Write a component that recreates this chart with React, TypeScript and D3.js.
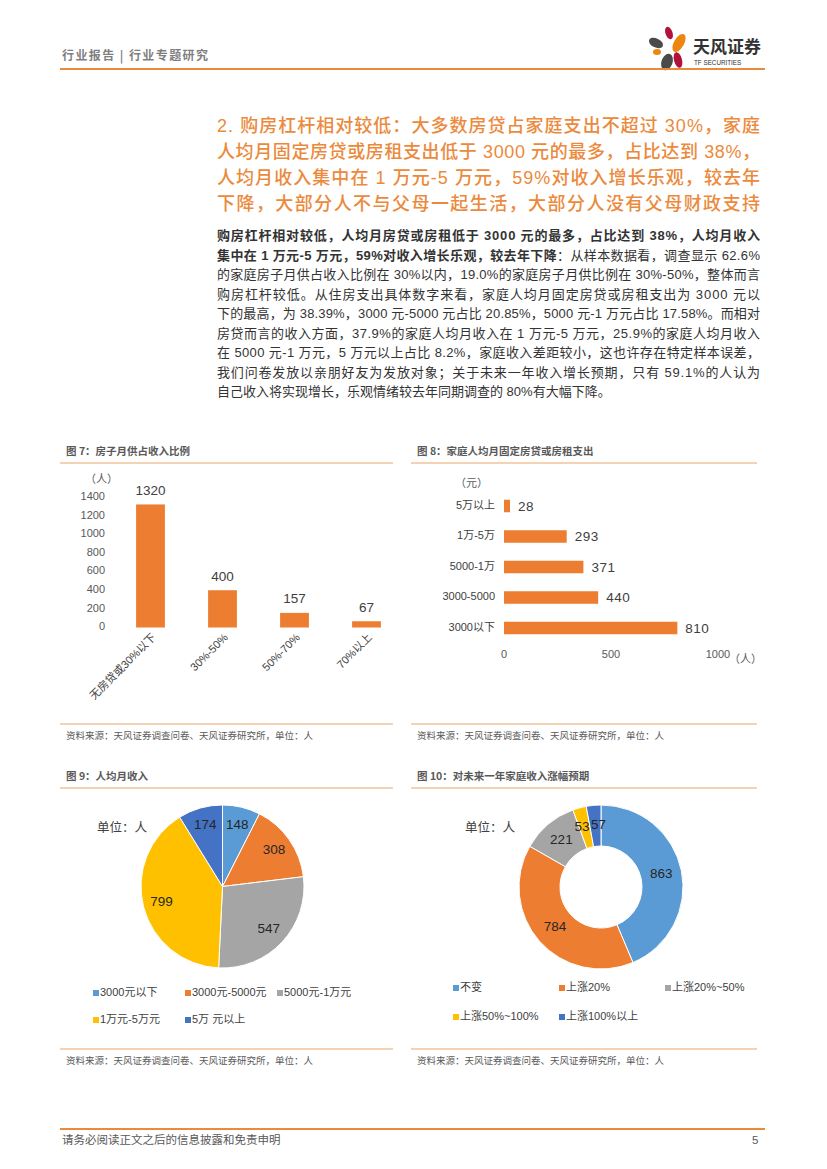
import * as React from "react";
import * as d3 from "d3";

// 图7 房子月供占收入比例
const ratioCats = ["无房贷或30%以下", "30%-50%", "50%-70%", "70%以上"];
const ratioVals = [1320, 400, 157, 67];
const ratioTicks = [0, 200, 400, 600, 800, 1000, 1200, 1400];

// 图8 家庭人均月固定房贷或房租支出
const rentCats = ["5万以上", "1万-5万", "5000-1万", "3000-5000", "3000以下"];
const rentVals = [28, 293, 371, 440, 810];
const rentTicks = [0, 500, 1000];

// 图9 人均月收入
const incomeCats = ["3000元以下", "3000元-5000元", "5000元-1万元", "1万元-5万元", "5万 元以上"];
const incomeVals = [148, 308, 547, 799, 174];

// 图10 对未来一年家庭收入涨幅预期
const expectCats = ["不变", "上涨20%", "上涨20%~50%", "上涨50%~100%", "上涨100%以上"];
const expectVals = [863, 784, 221, 53, 57];

const titleLines = [
  "2. 购房杠杆相对较低：大多数房贷占家庭支出不超过 30%，家庭",
  "人均月固定房贷或房租支出低于 3000 元的最多，占比达到 38%，",
  "人均月收入集中在 1 万元-5 万元，59%对收入增长乐观，较去年",
  "下降，大部分人不与父母一起生活，大部分人没有父母财政支持",
];

const bodyLines = [
  "从样本数据看，调查显示 62.6%",
  "的家庭房子月供占收入比例在 30%以内，19.0%的家庭房子月供比例在 30%-50%，整体而言",
  "购房杠杆较低。从住房支出具体数字来看，家庭人均月固定房贷或房租支出为 3000 元以",
  "下的最高，为 38.39%，3000 元-5000 元占比 20.85%，5000 元-1 万元占比 17.58%。而相对",
  "房贷而言的收入方面，37.9%的家庭人均月收入在 1 万元-5 万元，25.9%的家庭人均月收入",
  "在 5000 元-1 万元，5 万元以上占比 8.2%，家庭收入差距较小，这也许存在特定样本误差，",
  "我们问卷发放以亲朋好友为发放对象；关于未来一年收入增长预期，只有 59.1%的人认为",
  "自己收入将实现增长，乐观情绪较去年同期调查的 80%有大幅下降。",
];

const COLORS = ["#5B9BD5", "#ED7D31", "#A5A5A5", "#FFC000", "#4472C4"];
const ORANGE = "#ED7D31";
const FONT = "'Liberation Sans', 'Noto Sans CJK SC', sans-serif";
const CJK = "'Noto Sans CJK SC', 'Liberation Sans', sans-serif";
const SOURCE = "资料来源：天风证券调查问卷、天风证券研究所，单位：人";

function SectionFrame(props: { x: number; w: number; y: number; bottom: number; title: string }) {
  const { x, w, y, bottom, title } = props;
  return (
    <g>
      <text x={x + 6} y={y} fontSize={10.5} fontWeight="bold" fill="#595959" fontFamily={CJK} dominantBaseline="middle">{title}</text>
      <line x1={x} x2={x + w} y1={y + 11} y2={y + 11} stroke="#EBA56B" strokeWidth={1} />
      <line x1={x} x2={x + w} y1={bottom} y2={bottom} stroke="#EBA56B" strokeWidth={1} />
      <text x={x + 6} y={bottom + 12} fontSize={9.5} fill="#595959" fontFamily={CJK} dominantBaseline="middle">{SOURCE}</text>
    </g>
  );
}

function Fig7() {
  const x = d3.scaleBand().domain(ratioCats).range([114.5, 402.5]).paddingInner(0.6).paddingOuter(0.3);
  const y = d3.scaleLinear().domain([0, 1400]).range([627.5, 497]);
  return (
    <g fontFamily={FONT}>
      <text x={85} y={480} fontSize={11} fill="#595959" dominantBaseline="middle">（人）</text>
      {ratioTicks.map((t) => (
        <text key={t} x={105} y={y(t)} fontSize={11} fill="#595959" textAnchor="end" dominantBaseline="middle">{t}</text>
      ))}
      {ratioCats.map((c, i) => {
        const bx = x(c) as number;
        const cx = bx + x.bandwidth() / 2;
        return (
          <g key={c}>
            <rect x={bx} y={y(ratioVals[i])} width={x.bandwidth()} height={y(0) - y(ratioVals[i])} fill={ORANGE} />
            <text x={cx} y={y(ratioVals[i]) - 13} fontSize={13.5} fill="#404040" textAnchor="middle" dominantBaseline="middle">{ratioVals[i]}</text>
            <text transform={`translate(${cx + 4},${636}) rotate(-45)`} fontSize={11} fill="#404040" textAnchor="end" dominantBaseline="middle">{c}</text>
          </g>
        );
      })}
    </g>
  );
}

function Fig8() {
  const y = d3.scaleBand().domain(rentCats).range([490.75, 643.25]).paddingInner(0.59).paddingOuter(0.295);
  const x = d3.scaleLinear().domain([0, 1000]).range([504, 718]);
  return (
    <g fontFamily={FONT}>
      <text x={455} y={484} fontSize={11} fill="#595959" dominantBaseline="middle">（元）</text>
      {rentCats.map((c, i) => {
        const by = y(c) as number;
        const cy = by + y.bandwidth() / 2;
        return (
          <g key={c}>
            <text x={495} y={cy} fontSize={11} fill="#404040" textAnchor="end" dominantBaseline="middle">{c}</text>
            <rect x={x(0)} y={by} width={x(rentVals[i]) - x(0)} height={y.bandwidth()} fill={ORANGE} />
            <text x={x(rentVals[i]) + 8} y={cy + 1} fontSize={13.5} fill="#404040" dominantBaseline="middle" letterSpacing={0.5}>{rentVals[i]}</text>
          </g>
        );
      })}
      {rentTicks.map((t) => (
        <text key={t} x={x(t)} y={655} fontSize={11} fill="#595959" textAnchor="middle" dominantBaseline="middle">{t}</text>
      ))}
      <text x={729} y={660} fontSize={11} fill="#595959" dominantBaseline="middle">（人）</text>
    </g>
  );
}

function PieChart(props: {
  cx: number; cy: number; r: number; inner: number; labelR: number;
  vals: number[]; cats: string[]; unitX: number; legend: { x: number; y: number }[];
  nudge?: number[];
}) {
  const { cx, cy, r, inner, labelR, vals, cats, unitX, legend, nudge } = props;
  const pie = d3.pie<number>().sort(null).value((d) => d);
  const arcs = pie(vals);
  const arc = d3.arc<d3.PieArcDatum<number>>().innerRadius(inner).outerRadius(r);
  const labelArc = d3.arc<d3.PieArcDatum<number>>().innerRadius(labelR).outerRadius(labelR);
  return (
    <g fontFamily={FONT}>
      <text x={unitX} y={829} fontSize={12.5} fill="#404040" fontFamily={CJK} dominantBaseline="middle">单位：人</text>
      <g transform={`translate(${cx},${cy})`}>
        {arcs.map((a, i) => (
          <path key={i} d={arc(a) as string} fill={COLORS[i]} stroke="#fff" strokeWidth={1} />
        ))}
        {arcs.map((a, i) => {
          const [lx, ly] = inner > 0 ? arc.centroid(a) : labelArc.centroid(a);
          const dx = nudge ? nudge[i] : 0;
          return (
            <text key={i} x={lx + dx} y={ly} fontSize={13.5} fill="#262626" textAnchor="middle" dominantBaseline="middle">{vals[i]}</text>
          );
        })}
      </g>
      {cats.map((c, i) => (
        <g key={c}>
          <rect x={legend[i].x} y={legend[i].y - 3} width={6} height={6} fill={COLORS[i]} />
          <text x={legend[i].x + 7} y={legend[i].y} fontSize={11} fill="#404040" dominantBaseline="middle">{c}</text>
        </g>
      ))}
    </g>
  );
}

function Logo() {
  return (
    <g>
      <ellipse cx={669} cy={33} rx={3.5} ry={6.5} fill="#B0123B" transform="rotate(-20 669 33)" />
      <ellipse cx={679} cy={43} rx={5} ry={10} fill="#EE8510" transform="rotate(30 679 43)" />
      <ellipse cx={656} cy={43} rx={7.5} ry={4.5} fill="#4A4A4A" transform="rotate(25 656 43)" />
      <ellipse cx={657} cy={52} rx={4} ry={3} fill="#EE8510" />
      <ellipse cx={667} cy={62} rx={5.5} ry={8.5} fill="#4A4A4A" transform="rotate(20 667 62)" />
      <ellipse cx={678} cy={60} rx={4} ry={8} fill="#B0123B" transform="rotate(-15 678 60)" />
      <text x={693} y={48} fontSize={17} fontWeight="bold" fill="#333" fontFamily={CJK} dominantBaseline="middle">天风证券</text>
      <text x={694} y={63} fontSize={6.3} fill="#333" fontFamily={FONT} dominantBaseline="middle">TF SECURITIES</text>
    </g>
  );
}

export default function App() {
  return (
    <svg width={827} height={1169} style={{ position: "absolute", left: 0, top: 0, background: "#fff" }}>
      {/* header */}
      <text x={62} y={57} fontSize={12} fontWeight="bold" fill="#7F7F7F" fontFamily={CJK} dominantBaseline="middle"
        textLength={146} lengthAdjust="spacing">行业报告 | 行业专题研究</text>
      <Logo />
      <line x1={60} x2={765} y1={69} y2={69} stroke="#E98B3A" strokeWidth={2} />

      {/* orange heading */}
      {titleLines.map((t, i) => (
        <text key={i} x={217} y={127 + i * 26} fontSize={18} fontWeight={500} fill="#EB8A3C" fontFamily={FONT}
          dominantBaseline="middle" textLength={543} lengthAdjust="spacing">{t}</text>
      ))}

      {/* body paragraph */}
      <g fontFamily={FONT} fontSize={13} fill="#333">
        <text x={217} y={237} fontWeight="bold" dominantBaseline="middle" textLength={543} lengthAdjust="spacing">
          购房杠杆相对较低，人均月房贷或房租低于 3000 元的最多，占比达到 38%，人均月收入
        </text>
        <text x={217} y={256.5} dominantBaseline="middle" textLength={543} lengthAdjust="spacing">
          <tspan fontWeight="bold">集中在 1 万元-5 万元，59%对收入增长乐观，较去年下降</tspan>
          <tspan>：{bodyLines[0]}</tspan>
        </text>
        {bodyLines.slice(1).map((t, i) => (
          <text key={i} x={217} y={276 + i * 19.5} dominantBaseline="middle"
            textLength={i < bodyLines.length - 2 ? 543 : undefined} lengthAdjust="spacing">{t}</text>
        ))}
      </g>

      {/* chart frames */}
      <SectionFrame x={60} w={333} y={452} bottom={724} title="图 7：房子月供占收入比例" />
      <SectionFrame x={411} w={346} y={452} bottom={724} title="图 8：家庭人均月固定房贷或房租支出" />
      <SectionFrame x={60} w={333} y={777} bottom={1049} title="图 9：人均月收入" />
      <SectionFrame x={411} w={346} y={777} bottom={1049} title="图 10：对未来一年家庭收入涨幅预期" />

      <Fig7 />
      <Fig8 />
      <PieChart cx={222.5} cy={886.5} r={81.5} inner={0} labelR={63} vals={incomeVals} cats={incomeCats} unitX={97}
        legend={[{ x: 93, y: 993 }, { x: 185, y: 993 }, { x: 277, y: 993 }, { x: 93, y: 1020 }, { x: 185, y: 1020 }]} />
      <PieChart cx={601} cy={887} r={82} inner={41} labelR={61.5} vals={expectVals} cats={expectCats} unitX={465}
        nudge={[0, 0, 0, -3, 3]}
        legend={[{ x: 453, y: 988 }, { x: 559, y: 988 }, { x: 665, y: 988 }, { x: 453, y: 1017 }, { x: 559, y: 1017 }]} />

      {/* footer */}
      <line x1={60} x2={765} y1={1129} y2={1129} stroke="#E98B3A" strokeWidth={2} />
      <text x={62} y={1141} fontSize={11.5} fill="#595959" fontFamily={CJK} dominantBaseline="middle">请务必阅读正文之后的信息披露和免责申明</text>
      <text x={752} y={1141} fontSize={11.5} fill="#595959" fontFamily={FONT} dominantBaseline="middle">5</text>
    </svg>
  );
}
